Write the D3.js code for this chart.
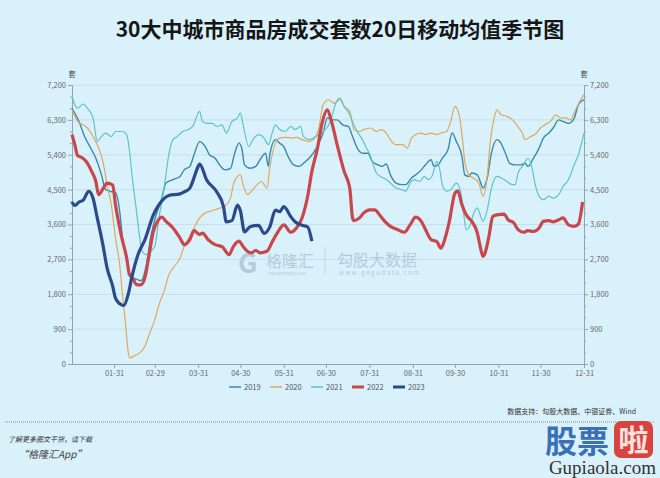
<!DOCTYPE html>
<html>
<head>
<meta charset="utf-8">
<script src="https://cdn.jsdelivr.net/npm/d3@7"></script>
<style>
html, body { margin: 0; padding: 0; background: #d9f1fb; }
svg { display: block; font-family: "Noto Sans CJK SC", "Noto Sans", sans-serif; }
</style>
</head>
<body>
<svg id="chart" width="660" height="478"></svg>
<script>
// day of year (0 = 01-01) and 20-day moving average of units sold
var days2019 = [0,5,9,14,17,21,24,29,31,34,36,39,42,46,49,53,56,60,64,67,72,77,80,84,87,91,95,98,102,106,109,113,116,119,121,123,127,131,134,138,140,141,145,148,151,154,158,162,165,169,172,176,179,182,186,189,193,197,200,204,207,211,214,218,221,224,227,231,235,238,242,245,249,252,256,258,261,264,268,271,274,278,280,283,285,289,291,293,296,299,303,305,309,312,316,320,323,325,329,333,336,340,343,347,350,354,358,361,365];
var vals2019 = [6600,6260,5870,5530,5310,4880,4500,4440,4420,3940,3250,2730,2220,2190,2150,2560,3250,3850,4280,4670,4760,4840,5010,5100,5400,5740,5610,5400,5310,5100,5010,5050,5440,5700,5570,5140,5050,5100,5270,5440,5100,5400,5790,5700,5610,5360,5140,5100,5180,5310,5440,5700,5960,6350,6300,6300,6170,6130,5870,5530,5440,5440,5230,5140,5100,5160,4880,4670,4630,4630,4800,4880,5010,5140,5270,5100,5140,5310,5530,5960,5740,5360,4880,4840,4930,4880,4710,4540,4800,5440,5790,5740,5440,5180,5140,5140,5180,5100,5310,5570,5830,5960,6090,6300,6260,6210,6340,6690,6820];

var days2020 = [0,4,8,11,15,18,22,25,28,31,34,36,38,40,41,44,48,52,55,59,62,66,69,73,77,80,84,87,91,95,98,102,106,109,113,115,118,120,122,125,128,132,135,139,141,145,148,152,157,160,164,169,172,176,179,183,187,191,194,198,201,205,208,213,217,220,224,227,231,236,239,242,245,249,252,256,260,263,267,270,273,276,278,280,283,286,290,292,293,296,298,301,303,306,310,314,317,321,323,327,330,334,337,341,345,348,352,355,359,362,365];
var vals2020 = [6560,6260,6170,6090,5870,5660,5230,4630,4110,3250,2560,1790,1100,330,155,200,280,460,760,1140,1530,1920,2300,2520,2730,3040,3290,3510,3770,3900,3940,3980,4030,4070,4280,4630,4840,4880,4630,4370,4460,4630,4710,4540,5060,5700,5830,5850,5830,5850,5790,5740,5790,6090,6690,6820,6730,6820,6650,6520,6050,6000,6050,6090,6000,6050,5960,5790,5660,5660,5570,5830,5920,5960,5920,5960,5920,5960,6000,6260,6650,6430,5920,5230,4880,4800,4670,4410,4330,4840,5660,6350,6560,6430,6390,6300,6170,5960,5790,5870,5920,6090,6170,6260,6430,6350,6350,6300,6560,6780,6950];

var days2021 = [0,2,4,8,11,15,18,21,24,28,31,36,39,41,43,46,48,50,53,56,59,62,66,69,72,75,79,83,86,91,93,96,100,103,107,110,114,118,120,122,126,129,133,137,140,143,145,148,152,156,159,163,165,169,172,176,179,183,185,188,191,194,198,201,204,207,210,212,214,217,220,224,227,231,235,238,241,244,248,251,254,257,260,262,264,267,270,274,277,279,281,284,286,289,291,293,296,299,303,306,310,314,316,318,322,325,328,330,333,336,340,343,347,350,354,358,361,365];
var vals2021 = [6910,6690,6600,6710,6600,6350,5740,5870,5960,5870,6000,6000,5920,5490,4800,3940,3340,2910,2820,2910,3030,3770,4630,5400,5790,5870,6000,6050,6130,6520,6260,6210,6210,6130,6170,5960,6260,6350,6480,6170,5610,5790,5920,5830,5660,6000,6170,6050,6000,6130,6050,6130,5870,5790,5830,5920,6000,6170,6350,6730,6860,6650,6430,6170,5960,5790,5570,5440,5230,4930,4840,4760,4670,4540,4500,4460,4670,4760,4710,4840,4760,4880,5230,5050,4630,4460,4500,4670,4460,3940,3470,3600,3850,4030,3850,3680,3980,4540,4840,4800,4710,4630,4630,4930,5140,5310,5050,4670,4330,4240,4330,4280,4370,4580,4760,5140,5400,5960];

var days2022 = [0,2,4,7,10,14,17,19,23,25,29,31,35,39,41,43,46,49,52,55,58,61,64,67,72,77,80,84,87,91,93,97,102,107,112,115,119,122,125,128,131,134,139,143,147,151,156,160,164,168,171,175,178,182,185,189,194,198,200,201,205,208,212,216,219,223,227,232,237,241,245,249,252,256,260,263,266,269,273,275,278,281,285,289,291,293,294,297,300,303,308,311,315,318,322,325,329,333,336,340,343,347,350,354,358,361,364];
var vals2022 = [5920,5660,5380,5330,5230,4970,4710,4370,4580,4670,4620,4110,3340,2730,2300,2230,2050,2040,2230,2820,3420,3680,3790,3680,3510,3250,3080,3210,3440,3340,3380,3210,3080,3030,2820,3030,3170,3030,2910,2870,2930,2870,2910,3170,3420,3590,3400,3510,3770,4330,4970,5570,6170,6560,6260,5660,4970,4540,3770,3700,3770,3900,3980,3980,3860,3680,3550,3470,3400,3590,3790,3680,3470,3210,3160,2990,3250,3680,4410,4470,4110,3850,3680,3380,3030,2780,2820,3250,3810,3850,3870,3720,3640,3470,3400,3440,3420,3510,3680,3700,3670,3720,3770,3590,3550,3610,4180];

var days2023 = [0,2,5,8,12,15,18,22,25,29,31,35,37,40,43,47,52,58,62,69,77,80,84,90,91,96,103,108,110,114,118,120,123,127,133,137,141,145,148,151,156,159,164,168,171];
var vals2023 = [4180,4090,4180,4230,4455,4280,3770,3080,2480,2010,1700,1530,1510,1790,2300,2820,3210,3850,4110,4350,4390,4440,4540,5100,5160,4750,4450,4060,3670,3700,4100,3960,3410,3540,3580,3370,3540,3970,3930,4060,3800,3670,3580,3540,3170];

var tickDays = [30,59,90,120,151,181,212,243,273,304,334,365];
var tickLabels = ['01-31','02-29','03-31','04-30','05-31','06-30','07-31','08-31','09-30','10-31','11-30','12-31'];
var yTicks = [0,900,1800,2700,3600,4500,5400,6300,7200];

var width = 660, height = 478;
var plotLeft = 72, plotRight = 584, plotTop = 85, plotBottom = 364;

var svg = d3.select('#chart');
svg.append('rect').attr('width', width).attr('height', height).attr('fill', '#d9f1fb');

var x = d3.scaleLinear().domain([0, 365]).range([plotLeft, plotRight]);
var y = d3.scaleLinear().domain([0, 7200]).range([plotBottom, plotTop]);

// title
svg.append('text')
    .attr('x', 340).attr('y', 37)
    .attr('text-anchor', 'middle')
    .style('font-size', '21px').style('font-weight', 'bold')
    .attr('fill', '#151515')
    .text('30大中城市商品房成交套数20日移动均值季节图');

// grid
svg.append('g').selectAll('line')
    .data(yTicks.slice(1))
    .enter().append('line')
    .attr('x1', plotLeft).attr('x2', plotRight)
    .attr('y1', d => y(d)).attr('y2', d => y(d))
    .attr('stroke', '#c4e1ee').attr('stroke-width', 1);

// watermarks
var wm = svg.append('g').attr('fill', '#b7cadb');
wm.append('text').attr('x', 238).attr('y', 273)
    .style('font-size', '27px').style('font-weight', 'bold').text('G');
wm.append('text').attr('x', 266).attr('y', 267)
    .style('font-size', '16px').text('格隆汇');
wm.append('text').attr('x', 268).attr('y', 275)
    .style('font-size', '4px').text('www.gelonghui.com');
wm.append('line').attr('x1', 325).attr('x2', 325).attr('y1', 247).attr('y2', 274)
    .attr('stroke', '#c3d3e2').attr('stroke-width', 1);
wm.append('text').attr('x', 337).attr('y', 266)
    .style('font-size', '16px').text('勾股大数据');
wm.append('text').attr('x', 339).attr('y', 275)
    .style('font-size', '6px').style('letter-spacing', '1.6px').text('www.gogudata.com');

// axes
function styleAxis(g) {
    g.selectAll('path, line').attr('stroke', '#8ea6b4');
    g.selectAll('text').attr('fill', '#6a6a6a').style('font-size', '7.5px');
    g.attr('font-family', null);
}

var minor = d3.range(0, 7201, 300).filter(d => d % 900 != 0);

svg.append('g').attr('transform', 'translate(' + plotLeft + ',0)')
    .call(d3.axisLeft(y).tickValues(minor).tickSize(2).tickSizeOuter(0).tickFormat(''))
    .call(styleAxis);
svg.append('g').attr('transform', 'translate(' + plotLeft + ',0)')
    .call(d3.axisLeft(y).tickValues(yTicks).tickSize(4).tickSizeOuter(0).tickPadding(2).tickFormat(d3.format(',')))
    .call(styleAxis);

svg.append('g').attr('transform', 'translate(' + plotRight + ',0)')
    .call(d3.axisRight(y).tickValues(minor).tickSize(2).tickSizeOuter(0).tickFormat(''))
    .call(styleAxis);
svg.append('g').attr('transform', 'translate(' + plotRight + ',0)')
    .call(d3.axisRight(y).tickValues(yTicks).tickSize(4).tickSizeOuter(0).tickPadding(2).tickFormat(d3.format(',')))
    .call(styleAxis);

svg.append('g').attr('transform', 'translate(0,' + plotBottom + ')')
    .call(d3.axisBottom(x).tickValues(tickDays).tickSize(4).tickSizeOuter(0).tickFormat((d, i) => tickLabels[i]))
    .call(styleAxis);

// unit
[plotLeft, plotRight].forEach(function(px) {
    svg.append('text').attr('x', px).attr('y', 77)
        .attr('text-anchor', 'middle')
        .style('font-size', '7.5px').attr('fill', '#555')
        .text('套');
});

// series
var series = [
    { name: '2019', days: days2019, vals: vals2019, color: '#3a8aab', w: 1.4 },
    { name: '2020', days: days2020, vals: vals2020, color: '#e0a85c', w: 1.2 },
    { name: '2021', days: days2021, vals: vals2021, color: '#5ec3ca', w: 1.2 },
    { name: '2022', days: days2022, vals: vals2022, color: '#c9474b', w: 3.2 },
    { name: '2023', days: days2023, vals: vals2023, color: '#2c4a8a', w: 3.2 }
];

var line = d3.line()
    .x(d => x(d[0]))
    .y(d => y(d[1]))
    .curve(d3.curveMonotoneX);

svg.append('g').selectAll('path')
    .data(series)
    .enter().append('path')
    .attr('d', d => line(d3.zip(d.days, d.vals)))
    .attr('fill', 'none')
    .attr('stroke', d => d.color)
    .attr('stroke-width', d => d.w)
    .attr('stroke-linejoin', 'round');

// legend
var lg = svg.append('g').selectAll('g')
    .data(series)
    .enter().append('g')
    .attr('transform', (d, i) => 'translate(' + (229 + i * 41) + ',387)');
lg.append('line')
    .attr('x1', 0).attr('x2', 12)
    .attr('stroke', d => d.color)
    .attr('stroke-width', d => d.w > 2 ? 3 : 1.5);
lg.append('text')
    .attr('x', 15).attr('y', 3)
    .style('font-size', '7.5px').attr('fill', '#555')
    .text(d => d.name);

// footer
svg.append('text').attr('x', 636).attr('y', 414)
    .attr('text-anchor', 'end')
    .style('font-size', '7px').attr('fill', '#333')
    .text('数据支持：勾股大数据、中银证券、Wind');
svg.append('line').attr('x1', 5).attr('x2', 655).attr('y1', 422).attr('y2', 422)
    .attr('stroke', '#888').attr('stroke-dasharray', '1,1');
svg.append('text').attr('x', 8).attr('y', 442)
    .style('font-size', '7px').style('font-style', 'italic').attr('fill', '#333')
    .text('了解更多图文干货，请下载');
svg.append('text').attr('x', 18).attr('y', 458)
    .style('font-size', '10px').style('font-style', 'italic').attr('fill', '#444')
    .text('“格隆汇App”');

// site mark bottom right
svg.append('text').attr('x', 545).attr('y', 453)
    .style('font-size', '32px').style('font-weight', 'bold').attr('fill', '#3c70b6')
    .text('股票');
svg.append('rect').attr('x', 614).attr('y', 421).attr('width', 39).attr('height', 37).attr('rx', 7)
    .attr('fill', '#d8443d');
svg.append('text').attr('x', 633.5).attr('y', 451)
    .attr('text-anchor', 'middle')
    .style('font-size', '30px').style('font-weight', 'bold').attr('fill', '#f6e4e2')
    .text('啦');
svg.append('text').attr('x', 656).attr('y', 474)
    .attr('text-anchor', 'end')
    .style('font-family', '"Liberation Serif", serif').style('font-size', '19px').attr('fill', '#333')
    .text('Gupiaola.com');
</script>
</body>
</html>
